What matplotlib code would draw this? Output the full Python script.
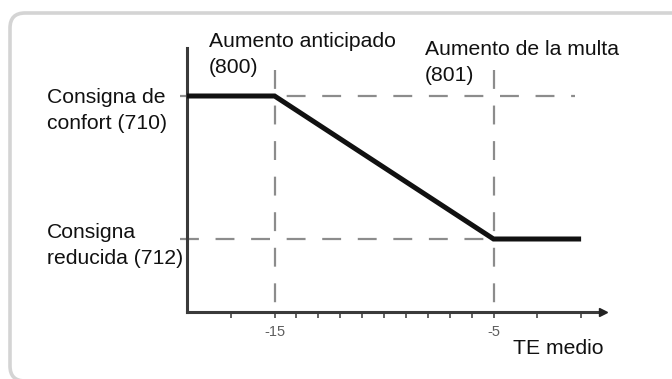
import matplotlib
matplotlib.use("Agg")
import matplotlib.pyplot as plt
from matplotlib.patches import FancyBboxPatch
from matplotlib.transforms import IdentityTransform

plt.rcParams['font.family'] = ['Liberation Sans', 'DejaVu Sans']

# Heating curve: setpoint versus mean outdoor temperature
curve_x = [-19, -15, -5, -1]
comfort_setpoint = 21.6
reduced_setpoint = 7.3
curve_y = [comfort_setpoint, comfort_setpoint, reduced_setpoint, reduced_setpoint]

labelled_ticks = [-15, -5]
tick_labels = ["-15", "-5"]
minor_ticks = [-17, -14, -13, -12, -11, -10, -9, -8, -7, -6, -3, -1]

W, H = 672, 379
DPI = 100
fig = plt.figure(figsize=(W / DPI, H / DPI), dpi=DPI)
fig.patch.set_facecolor("white")


def px(x, y):
    """Pixel position (from top-left) to figure fraction."""
    return x / W, 1 - y / H


# rounded panel border (right and bottom edges run off the canvas)
frame = FancyBboxPatch((10, -2), 800, 368,
                       boxstyle="round,pad=0,rounding_size=15",
                       transform=IdentityTransform(),
                       facecolor="none", edgecolor="#d4d4d4", linewidth=2.6)
fig.patches.append(frame)

# axes box in pixels: left 187, right 603, top 48, bottom 312
ax_l, ax_r, ax_t, ax_b = 187, 603, 48, 312
ax = fig.add_axes([ax_l / W, 1 - ax_b / H, (ax_r - ax_l) / W, (ax_b - ax_t) / H])
ax.set_xlim(-19, 0.0)
ax.set_ylim(0, 26.4)
ax.patch.set_alpha(0)

for s in ("top", "right"):
    ax.spines[s].set_visible(False)
for s in ("left", "bottom"):
    ax.spines[s].set_color("#3a3a3a")
    ax.spines[s].set_linewidth(2.2)

# guide lines
dash = (0, (8.5, 7.5))
guide_kw = dict(color="#8c8c8c", linewidth=1.6, linestyle=dash, clip_on=False, zorder=2)
ax.plot([-19.3, -1.3], [comfort_setpoint, comfort_setpoint], **guide_kw)
ax.plot([-19.3, -5.4], [reduced_setpoint, reduced_setpoint], **guide_kw)
for xv in labelled_ticks:
    ax.plot([xv, xv], [24.2, 0], **guide_kw)

# the curve
ax.plot(curve_x, curve_y, color="#111111", linewidth=3.6,
        solid_capstyle="butt", solid_joinstyle="miter", zorder=3, clip_on=False)

# x axis arrow head
ax.plot([0], [0], marker=">", markersize=6, color="#222222", clip_on=False, zorder=4)

ax.set_yticks([])
ax.set_xticks(labelled_ticks)
ax.set_xticklabels(tick_labels, fontsize=10.5, color="#5e5e5e")
ax.set_xticks(minor_ticks, minor=True)
ax.tick_params(axis="x", which="both", direction="out", length=4.5, width=1.3,
               color="#555555", pad=5)

text_kw = dict(fontsize=15.2, color="#111111", ha="left", va="top", linespacing=1.47)
fig.text(*px(209, 32), "Aumento anticipado\n(800)", **text_kw)
fig.text(*px(425, 40), "Aumento de la multa\n(801)", **text_kw)
fig.text(*px(47, 88), "Consigna de\nconfort (710)", **text_kw)
fig.text(*px(47, 223), "Consigna\nreducida (712)", **text_kw)
fig.text(*px(513, 339), "TE medio", **text_kw)

fig.savefig("out.png", dpi=DPI)
